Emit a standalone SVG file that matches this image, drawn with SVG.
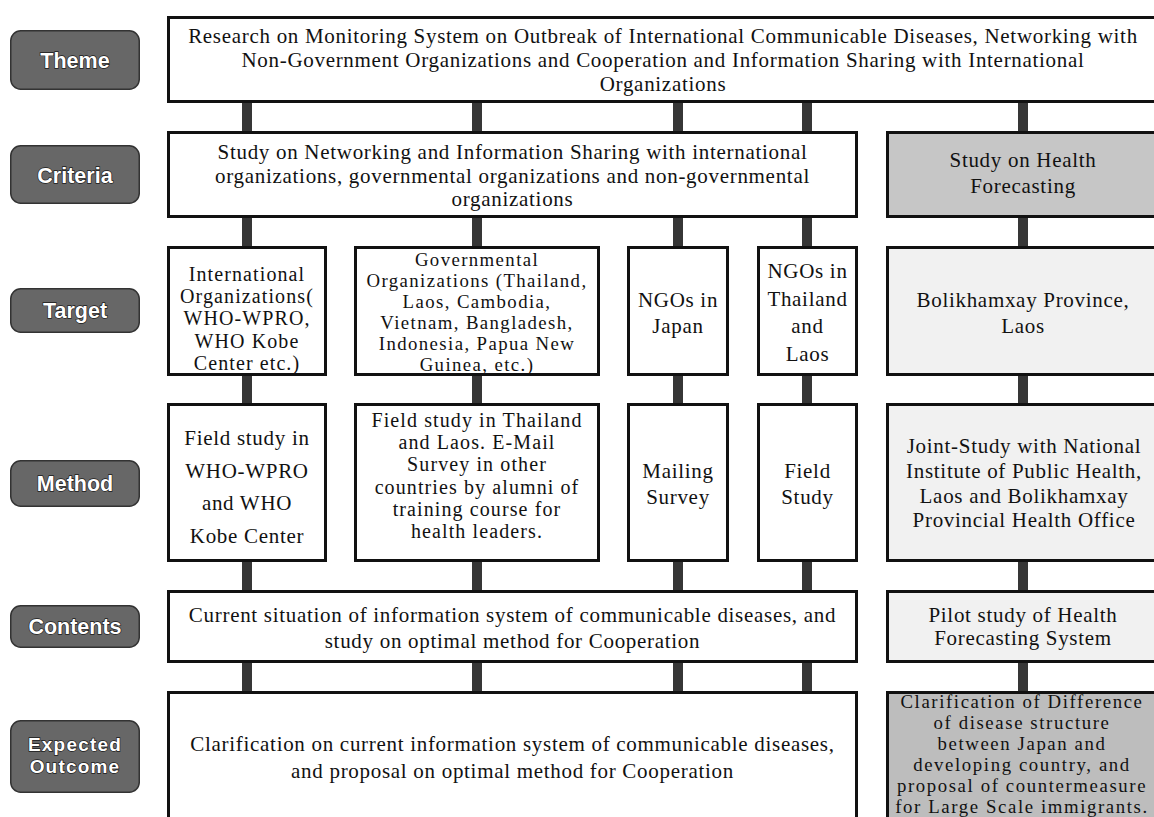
<svg xmlns="http://www.w3.org/2000/svg" width="1154" height="817" viewBox="0 0 1154 817">
<style>
.box{fill:#fff;stroke:#111;stroke-width:3}
.mid{fill:#c6c6c6;stroke:#111;stroke-width:3}
.dark{fill:#bdbdbd;stroke:#111;stroke-width:3}
.light{fill:#f1f1f1;stroke:#111;stroke-width:3}
.badge{fill:#676767;stroke:#333;stroke-width:1.5}
.bt{font-family:"Liberation Sans",Arial,sans-serif;font-weight:bold;font-size:21.5px;fill:#fff;stroke:#1a1a1a;stroke-width:1.3;paint-order:stroke;text-anchor:middle}
.bt2{font-size:19px;letter-spacing:1.2px}
.t{font-family:"Liberation Serif","Times New Roman",serif;font-size:21px;letter-spacing:.7px;fill:#111;text-anchor:middle}
.s20{font-size:20px;letter-spacing:1.1px}
.s19{font-size:18.8px;letter-spacing:1.4px}
.s18{font-size:18.8px;letter-spacing:1.6px}
.stub{fill:#363636}
</style>
<rect width="1154" height="817" fill="#fff"/>
<g id="labels">
<g id="lbl-theme"><rect class="badge" x="10.75" y="30.75" width="128.5" height="58.5" rx="10"/><text class="bt" x="75" y="68">Theme</text></g>
<g id="lbl-criteria"><rect class="badge" x="10.75" y="145.75" width="128.5" height="57.5" rx="10"/><text class="bt" x="75" y="183">Criteria</text></g>
<g id="lbl-target"><rect class="badge" x="10.75" y="288.75" width="128.5" height="43.5" rx="10"/><text class="bt" x="75" y="318">Target</text></g>
<g id="lbl-method"><rect class="badge" x="10.75" y="460.75" width="128.5" height="45.5" rx="10"/><text class="bt" x="75" y="491">Method</text></g>
<g id="lbl-contents"><rect class="badge" x="10.75" y="605.75" width="128.5" height="41.5" rx="10"/><text class="bt" x="75" y="634">Contents</text></g>
<g id="lbl-outcome"><rect class="badge" x="10.75" y="720.75" width="128.5" height="71.5" rx="10"/><text class="bt bt2" x="75"><tspan x="75" y="751">Expected</tspan><tspan x="75" y="772.5">Outcome</tspan></text></g>
</g>
<g id="connectors">
<rect class="stub" x="242" y="103" width="10" height="28"/>
<rect class="stub" x="472" y="103" width="10" height="28"/>
<rect class="stub" x="673" y="103" width="10" height="28"/>
<rect class="stub" x="802" y="103" width="10" height="28"/>
<rect class="stub" x="1018" y="103" width="10" height="28"/>
<rect class="stub" x="242" y="218" width="10" height="28"/>
<rect class="stub" x="472" y="218" width="10" height="28"/>
<rect class="stub" x="673" y="218" width="10" height="28"/>
<rect class="stub" x="802" y="218" width="10" height="28"/>
<rect class="stub" x="1018" y="218" width="10" height="28"/>
<rect class="stub" x="242" y="376" width="10" height="27"/>
<rect class="stub" x="472" y="376" width="10" height="27"/>
<rect class="stub" x="673" y="376" width="10" height="27"/>
<rect class="stub" x="802" y="376" width="10" height="27"/>
<rect class="stub" x="1018" y="376" width="10" height="27"/>
<rect class="stub" x="242" y="562" width="10" height="28"/>
<rect class="stub" x="472" y="562" width="10" height="28"/>
<rect class="stub" x="673" y="562" width="10" height="28"/>
<rect class="stub" x="802" y="562" width="10" height="28"/>
<rect class="stub" x="1018" y="562" width="10" height="28"/>
<rect class="stub" x="242" y="663" width="10" height="28"/>
<rect class="stub" x="472" y="663" width="10" height="28"/>
<rect class="stub" x="673" y="663" width="10" height="28"/>
<rect class="stub" x="802" y="663" width="10" height="28"/>
<rect class="stub" x="1018" y="663" width="10" height="28"/>
</g>
<g id="theme"><rect class="box" x="168.5" y="17.5" width="995" height="84"/>
<text class="t"><tspan x="663" y="43">Research on Monitoring System on Outbreak of International Communicable Diseases, Networking with</tspan><tspan x="663" y="67">Non-Government Organizations and Cooperation and Information Sharing with International</tspan><tspan x="663" y="91">Organizations</tspan></text></g>
<g id="criteria"><rect class="box" x="168.5" y="132.5" width="688" height="84"/>
<text class="t"><tspan x="512.5" y="159">Study on Networking and Information Sharing with international</tspan><tspan x="512.5" y="182.5">organizations, governmental organizations and non-governmental</tspan><tspan x="512.5" y="206">organizations</tspan></text></g>
<g id="health"><rect class="mid" x="887.5" y="132.5" width="276" height="84"/>
<text class="t"><tspan x="1023" y="167">Study on Health</tspan><tspan x="1023" y="193">Forecasting</tspan></text></g>
<g id="target-intl"><rect class="box" x="168.5" y="247.5" width="157" height="127"/>
<text class="t s20"><tspan x="247" y="281">International</tspan><tspan x="247" y="303.2">Organizations(</tspan><tspan x="247" y="325.4">WHO-WPRO,</tspan><tspan x="247" y="347.6">WHO Kobe</tspan><tspan x="247" y="369.8">Center etc.)</tspan></text></g>
<g id="target-gov"><rect class="box" x="355.5" y="247.5" width="243" height="127"/>
<text class="t s19"><tspan x="477" y="266">Governmental</tspan><tspan x="477" y="286.9">Organizations (Thailand,</tspan><tspan x="477" y="307.8">Laos, Cambodia,</tspan><tspan x="477" y="328.7">Vietnam, Bangladesh,</tspan><tspan x="477" y="349.6">Indonesia, Papua New</tspan><tspan x="477" y="370.5">Guinea, etc.)</tspan></text></g>
<g id="target-ngoj"><rect class="box" x="628.5" y="247.5" width="99" height="127"/>
<text class="t"><tspan x="678" y="307">NGOs in</tspan><tspan x="678" y="333">Japan</tspan></text></g>
<g id="target-ngot"><rect class="box" x="758.5" y="247.5" width="98" height="127"/>
<text class="t"><tspan x="807.5" y="278">NGOs in</tspan><tspan x="807.5" y="306">Thailand</tspan><tspan x="807.5" y="333">and</tspan><tspan x="807.5" y="361">Laos</tspan></text></g>
<g id="target-boli"><rect class="light" x="887.5" y="247.5" width="276" height="127"/>
<text class="t"><tspan x="1023" y="307">Bolikhamxay Province,</tspan><tspan x="1023" y="333">Laos</tspan></text></g>
<g id="method-intl"><rect class="box" x="168.5" y="404.5" width="157" height="156"/>
<text class="t"><tspan x="247" y="445">Field study in</tspan><tspan x="247" y="478">WHO-WPRO</tspan><tspan x="247" y="510">and WHO</tspan><tspan x="247" y="543">Kobe Center</tspan></text></g>
<g id="method-gov"><rect class="box" x="355.5" y="404.5" width="243" height="156"/>
<text class="t s20"><tspan x="477" y="427">Field study in Thailand</tspan><tspan x="477" y="449.2">and Laos. E-Mail</tspan><tspan x="477" y="471.4">Survey in other</tspan><tspan x="477" y="493.6">countries by alumni of</tspan><tspan x="477" y="515.8">training course for</tspan><tspan x="477" y="538">health leaders.</tspan></text></g>
<g id="method-mail"><rect class="box" x="628.5" y="404.5" width="99" height="156"/>
<text class="t"><tspan x="678" y="478">Mailing</tspan><tspan x="678" y="504">Survey</tspan></text></g>
<g id="method-field"><rect class="box" x="758.5" y="404.5" width="98" height="156"/>
<text class="t"><tspan x="807.5" y="478">Field</tspan><tspan x="807.5" y="504">Study</tspan></text></g>
<g id="method-joint"><rect class="light" x="887.5" y="404.5" width="276" height="156"/>
<text class="t"><tspan x="1024" y="453">Joint-Study with National</tspan><tspan x="1024" y="478">Institute of Public Health,</tspan><tspan x="1024" y="503">Laos and Bolikhamxay</tspan><tspan x="1024" y="527">Provincial Health Office</tspan></text></g>
<g id="contents"><rect class="box" x="168.5" y="591.5" width="688" height="70"/>
<text class="t"><tspan x="512.5" y="622">Current situation of information system of communicable diseases, and</tspan><tspan x="512.5" y="648">study on optimal method for Cooperation</tspan></text></g>
<g id="contents-pilot"><rect class="light" x="887.5" y="591.5" width="276" height="70"/>
<text class="t"><tspan x="1023" y="621.5">Pilot study of Health</tspan><tspan x="1023" y="645">Forecasting System</tspan></text></g>
<g id="outcome"><rect class="box" x="168.5" y="692.5" width="688" height="140"/>
<text class="t"><tspan x="512.5" y="751">Clarification on current information system of communicable diseases,</tspan><tspan x="512.5" y="778">and proposal on optimal method for Cooperation</tspan></text></g>
<g id="outcome-clar"><rect class="dark" x="887.5" y="692.5" width="276" height="140"/>
<text class="t s18"><tspan x="1022" y="708">Clarification of Difference</tspan><tspan x="1022" y="728.9">of disease structure</tspan><tspan x="1022" y="749.8">between Japan and</tspan><tspan x="1022" y="770.7">developing country, and</tspan><tspan x="1022" y="791.6">proposal of countermeasure</tspan><tspan x="1022" y="812.5">for Large Scale immigrants.</tspan></text></g>
</svg>
